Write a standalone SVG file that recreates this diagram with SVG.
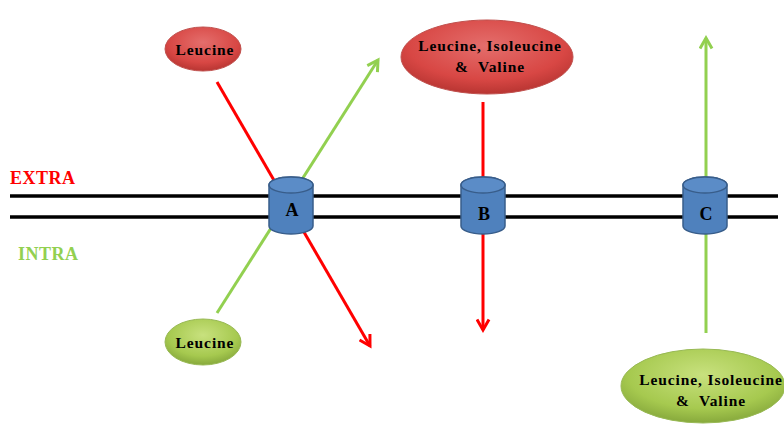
<svg xmlns="http://www.w3.org/2000/svg" width="784" height="424" viewBox="0 0 784 424">
<defs>
<radialGradient id="gr" cx="0.5" cy="0.35" r="0.65">
<stop offset="0" stop-color="#e46e6c"/><stop offset="0.7" stop-color="#d84744"/><stop offset="1" stop-color="#b83532"/>
</radialGradient>
<radialGradient id="gg" cx="0.5" cy="0.35" r="0.65">
<stop offset="0" stop-color="#c8e17e"/><stop offset="0.7" stop-color="#a6c94f"/><stop offset="1" stop-color="#87a93c"/>
</radialGradient>
<marker id="ar" viewBox="0 0 10 10" refX="8" refY="5" markerWidth="5" markerHeight="5" orient="auto" markerUnits="strokeWidth">
<path d="M1,1 L8,5 L1,9" fill="none" stroke="#ff0000" stroke-width="2"/>
</marker>
<marker id="ag" viewBox="0 0 10 10" refX="8" refY="5" markerWidth="5" markerHeight="5" orient="auto" markerUnits="strokeWidth">
<path d="M1,1 L8,5 L1,9" fill="none" stroke="#92d050" stroke-width="2"/>
</marker>
</defs>
<style>
.lbl{font-family:"Liberation Serif",serif;font-weight:bold;fill:#000;text-anchor:middle}
.sp{font-size:15.5px;letter-spacing:0.9px}
.red{fill:url(#gr);stroke:#c0504d;stroke-width:1}
.grn{fill:url(#gg);stroke:#98b954;stroke-width:1}
.cyl{fill:#4f81bd;stroke:#385d8a;stroke-width:1.5}
.mem{stroke:#000;stroke-width:3.5}
</style>
<g id="membrane">
<line class="mem" x1="10" y1="196" x2="778" y2="196"/>
<line class="mem" x1="10" y1="217" x2="778" y2="217"/>
</g>
<text x="10" y="184" font-family="Liberation Serif,serif" font-weight="bold" font-size="18" letter-spacing="0.5" fill="#ff0000">EXTRA</text>
<text x="18" y="260" font-family="Liberation Serif,serif" font-weight="bold" font-size="18" letter-spacing="0.5" fill="#92d050">INTRA</text>
<g id="connectors" fill="none" stroke-width="3">
<line x1="217" y1="82" x2="370" y2="346" stroke="#ff0000" marker-end="url(#ar)"/>
<line x1="217" y1="313" x2="378" y2="60" stroke="#92d050" marker-end="url(#ag)"/>
<line x1="483" y1="102" x2="483" y2="330" stroke="#ff0000" marker-end="url(#ar)"/>
<line x1="706" y1="333" x2="706" y2="38" stroke="#92d050" marker-end="url(#ag)"/>
</g>
<g id="A">
<path class="cyl" d="M269,185 V226 A22,8 0 0 0 313,226 V185 A22,8 0 0 0 269,185 Z"/>
<ellipse class="cyl" cx="291" cy="185" rx="22" ry="8" style="fill:#5b8cc7"/>
<text class="lbl" x="292" y="216" font-size="18">A</text>
</g>
<g id="B">
<path class="cyl" d="M461,185 V226 A22,8 0 0 0 505,226 V185 A22,8 0 0 0 461,185 Z"/>
<ellipse class="cyl" cx="483" cy="185" rx="22" ry="8" style="fill:#5b8cc7"/>
<text class="lbl" x="484" y="220" font-size="18">B</text>
</g>
<g id="C">
<path class="cyl" d="M683,185 V226 A22,8 0 0 0 727,226 V185 A22,8 0 0 0 683,185 Z"/>
<ellipse class="cyl" cx="705" cy="185" rx="22" ry="8" style="fill:#5b8cc7"/>
<text class="lbl" x="706" y="220" font-size="18">C</text>
</g>
<g id="leu_out">
<ellipse class="red" cx="203" cy="49" rx="38" ry="22"/>
<text class="lbl sp" x="205" y="55">Leucine</text>
</g>
<g id="bcaa_out">
<ellipse class="red" cx="487" cy="57" rx="86" ry="37"/>
<text class="lbl sp" x="490" y="51">Leucine, Isoleucine</text>
<text class="lbl sp" x="490" y="72" xml:space="preserve">&amp;  Valine</text>
</g>
<g id="leu_in">
<ellipse class="grn" cx="203" cy="342" rx="38" ry="23"/>
<text class="lbl sp" x="205" y="348">Leucine</text>
</g>
<g id="bcaa_in">
<ellipse class="grn" cx="703" cy="386" rx="82" ry="37"/>
<text class="lbl sp" x="711" y="385">Leucine, Isoleucine</text>
<text class="lbl sp" x="711" y="406" xml:space="preserve">&amp;  Valine</text>
</g>
</svg>
